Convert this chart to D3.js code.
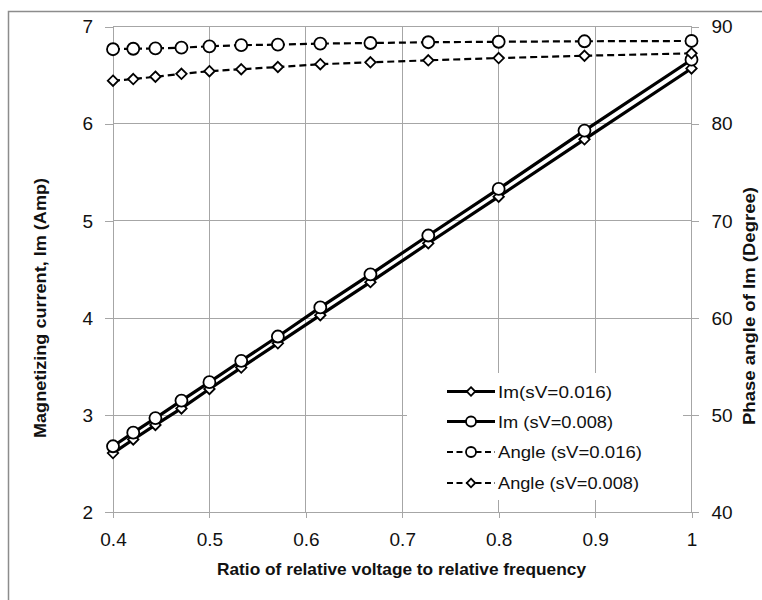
<!DOCTYPE html>
<html>
<head>
<meta charset="utf-8">
<script src="https://cdn.jsdelivr.net/npm/d3@7/dist/d3.min.js"></script>
<style>
  html, body { margin: 0; padding: 0; background: #fff; }
  svg { display: block; font-family: "Liberation Sans", Arial, sans-serif; }
</style>
</head>
<body>
<svg id="chart" width="762" height="600"></svg>
<script>
// Ratio of relative voltage to relative frequency
const ratio = [0.4, 0.421, 0.444, 0.471, 0.5, 0.533, 0.571, 0.615, 0.667, 0.727, 0.8, 0.889, 1.0];

// Magnetizing current (A)
const imSv016 = [2.61, 2.75, 2.90, 3.07, 3.27, 3.49, 3.74, 4.03, 4.37, 4.77, 5.25, 5.84, 6.57];
const imSv008 = [2.68, 2.82, 2.97, 3.15, 3.34, 3.56, 3.81, 4.11, 4.45, 4.85, 5.33, 5.93, 6.66];

// Phase angle of Im (degree)
const angleSv016 = [87.68, 87.73, 87.76, 87.84, 87.98, 88.10, 88.15, 88.26, 88.32, 88.40, 88.45, 88.50, 88.53];
const angleSv008 = [84.44, 84.61, 84.85, 85.15, 85.42, 85.62, 85.85, 86.14, 86.33, 86.54, 86.77, 87.01, 87.26];

const xTicks = [0.4, 0.5, 0.6, 0.7, 0.8, 0.9, 1.0];
const xTickLabels = ["0.4", "0.5", "0.6", "0.7", "0.8", "0.9", "1"];
const leftTicks = [2, 3, 4, 5, 6, 7];
const rightTicks = [40, 50, 60, 70, 80, 90];

const seriesNames = ["Im(sV=0.016)", "Im (sV=0.008)", "Angle (sV=0.016)", "Angle (sV=0.008)"];

const svg = d3.select("#chart");
const plot = { left: 113, right: 691.5, top: 26.7, bottom: 512.3 };
const gridColor = "#a6a6a6";
const textColor = "#111";

const x = d3.scaleLinear().domain([0.4, 1.0]).range([plot.left, plot.right]);
const yL = d3.scaleLinear().domain([2, 7]).range([plot.bottom, plot.top]);
const yR = d3.scaleLinear().domain([40, 90]).range([plot.bottom, plot.top]);

// chart frame (left and top edges fall inside the canvas)
svg.append("path")
  .attr("d", "M8.5,620 L8.5,11.5 L780,11.5")
  .attr("fill", "none").attr("stroke", "#8c8c8c").attr("stroke-width", 1.5);

// gridlines
const grid = svg.append("g").attr("stroke", gridColor).attr("stroke-width", 1).attr("shape-rendering", "crispEdges");
grid.selectAll(".vg").data(xTicks).join("line")
  .attr("x1", d => x(d)).attr("x2", d => x(d))
  .attr("y1", plot.top).attr("y2", plot.bottom);
grid.selectAll(".hg").data(leftTicks).join("line")
  .attr("x1", plot.left).attr("x2", plot.right)
  .attr("y1", d => yL(d)).attr("y2", d => yL(d));

// axes with outward ticks
function styleAxis(g) {
  g.select(".domain").remove();
  g.selectAll(".tick line").attr("stroke", gridColor).attr("shape-rendering", "crispEdges");
  g.selectAll(".tick text").attr("fill", textColor).attr("font-size", 19);
}
svg.append("g").attr("transform", `translate(0,${plot.bottom})`)
  .call(d3.axisBottom(x).tickValues(xTicks).tickFormat((d, i) => xTickLabels[i]).tickSize(6).tickPadding(14))
  .call(styleAxis);
svg.append("g").attr("transform", `translate(${plot.left},0)`)
  .call(d3.axisLeft(yL).tickValues(leftTicks).tickFormat(d3.format("d")).tickSize(8).tickPadding(12))
  .call(styleAxis);
svg.append("g").attr("transform", `translate(${plot.right},0)`)
  .call(d3.axisRight(yR).tickValues(rightTicks).tickFormat(d3.format("d")).tickSize(7).tickPadding(13))
  .call(styleAxis);

// series definitions
const series = [
  { name: seriesNames[0], vals: imSv016, y: yL, shape: "diamond", dash: null, width: 3.2 },
  { name: seriesNames[1], vals: imSv008, y: yL, shape: "circle", dash: null, width: 3.2 },
  { name: seriesNames[2], vals: angleSv016, y: yR, shape: "circle", dash: "7,4", width: 2.2 },
  { name: seriesNames[3], vals: angleSv008, y: yR, shape: "diamond", dash: "7,4", width: 2.2 }
];

function drawMarker(g, shape, cx, cy, size) {
  if (shape === "circle") {
    g.append("circle").attr("cx", cx).attr("cy", cy).attr("r", size)
      .attr("fill", "#fff").attr("stroke", "#000").attr("stroke-width", 1.8);
  } else {
    const s = size * 0.95;
    g.append("path")
      .attr("d", `M${cx},${cy - s}L${cx + s},${cy}L${cx},${cy + s}L${cx - s},${cy}Z`)
      .attr("fill", "#fff").attr("stroke", "#000").attr("stroke-width", 1.8);
  }
}

const dataLayer = svg.append("g");
series.forEach(s => {
  const pts = ratio.map((r, i) => [r, s.vals[i]]);
  const line = d3.line().x(d => x(d[0])).y(d => s.y(d[1]));
  dataLayer.append("path").datum(pts)
    .attr("d", line).attr("fill", "none").attr("stroke", "#000")
    .attr("stroke-width", s.width)
    .attr("stroke-dasharray", s.dash);
  const mg = dataLayer.append("g");
  pts.forEach(p => drawMarker(mg, s.shape, x(p[0]), s.y(p[1]), s.shape === "circle" ? 6 : 5.5));
});

// legend
const legend = svg.append("g");
legend.append("rect").attr("x", 407).attr("y", 373).attr("width", 276).attr("height", 127).attr("fill", "#fff");
const legendRows = [391.5, 421.5, 452, 483];
const legendTextWidths = [114, 115, 144, 141];
series.forEach((s, i) => {
  const ly = legendRows[i];
  const row = legend.append("g");
  row.append("line").attr("x1", 447).attr("x2", 495).attr("y1", ly).attr("y2", ly)
    .attr("stroke", "#000").attr("stroke-width", s.width)
    .attr("stroke-dasharray", s.dash ? "6,3.5" : null);
  drawMarker(row, s.shape, 471, ly, s.shape === "circle" ? 5 : 4.5);
  row.append("text").attr("x", 498).attr("y", ly).attr("dy", "0.36em")
    .attr("font-size", 17).attr("fill", textColor)
    .attr("textLength", legendTextWidths[i]).attr("lengthAdjust", "spacingAndGlyphs")
    .text(s.name);
});

// axis titles
svg.append("text").attr("x", 401.5).attr("y", 575).attr("text-anchor", "middle")
  .attr("font-weight", "bold").attr("font-size", 16.5).attr("fill", textColor)
  .attr("textLength", 369).attr("lengthAdjust", "spacingAndGlyphs")
  .text("Ratio of relative voltage to relative frequency");

svg.append("text").attr("transform", "translate(46,308) rotate(-90)")
  .attr("text-anchor", "middle").attr("font-weight", "bold").attr("font-size", 16.5).attr("fill", textColor)
  .attr("textLength", 260).attr("lengthAdjust", "spacingAndGlyphs")
  .text("Magnetizing current, Im (Amp)");

svg.append("text").attr("transform", "translate(755,306) rotate(-90)")
  .attr("text-anchor", "middle").attr("font-weight", "bold").attr("font-size", 16.5).attr("fill", textColor)
  .attr("textLength", 238).attr("lengthAdjust", "spacingAndGlyphs")
  .text("Phase angle of Im (Degree)");
</script>
</body>
</html>
